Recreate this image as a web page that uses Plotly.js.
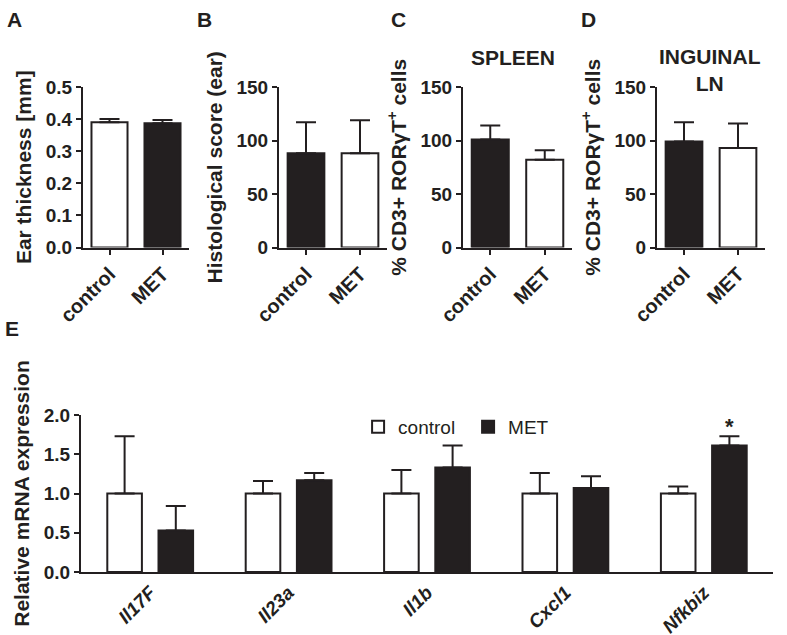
<!DOCTYPE html>
<html>
<head>
<meta charset="utf-8">
<script src="https://cdn.plot.ly/plotly-3.0.1.min.js"></script>
<style>
  html, body { margin: 0; padding: 0; background: #fff; }
  #myDiv { width: 787px; height: 635px; }
</style>
</head>
<body>
<div id="myDiv"></div>
<script>
// panel A-D: two groups each
var groups = ['control', 'MET'];

var earThick = [0.39, 0.387];
var earThickErr = [0.01, 0.01];

var histScore = [88, 88];
var histScoreErr = [29, 31];

var spleenPct = [101, 82];
var spleenErr = [13, 9];

var lnPct = [99, 93];
var lnErr = [18, 23];

// panel E
var genes = ['Il17F', 'Il23a', 'Il1b', 'Cxcl1', 'Nfkbiz'];
var ctrlExpr = [1.0, 1.0, 1.0, 1.0, 1.0];
var ctrlErr = [0.73, 0.16, 0.30, 0.26, 0.09];
var metExpr = [0.53, 1.17, 1.33, 1.07, 1.61];
var metErr = [0.31, 0.09, 0.28, 0.15, 0.12];

var FONT = 'Liberation Sans, Arial, sans-serif';
var INK = '#231f20';
var W = 787, H = 635;

function zeros(n) {
  var a = [];
  for (var i = 0; i < n; i++) a.push(0);
  return a;
}

function errUp(arr) {
  return {
    type: 'data', symmetric: false, array: arr, arrayminus: zeros(arr.length),
    color: INK, thickness: 2, width: 10
  };
}

function pairBar(vals, errs, colors, xa, ya) {
  return {
    type: 'bar',
    x: groups,
    y: vals,
    width: 0.68,
    xaxis: xa,
    yaxis: ya,
    showlegend: false,
    marker: { color: colors, line: { color: INK, width: 2 } },
    error_y: errUp(errs),
    hoverinfo: 'x+y'
  };
}

var whiteFirst = ['#ffffff', INK];
var blackFirst = [INK, '#ffffff'];

var traceA = pairBar(earThick, earThickErr, whiteFirst, 'x', 'y');
var traceB = pairBar(histScore, histScoreErr, blackFirst, 'x2', 'y2');
var traceC = pairBar(spleenPct, spleenErr, blackFirst, 'x3', 'y3');
var traceD = pairBar(lnPct, lnErr, blackFirst, 'x4', 'y4');

var traceCtrl = {
  type: 'bar',
  name: 'control',
  x: genes,
  y: ctrlExpr,
  width: 0.25,
  offset: -0.31,
  xaxis: 'x5',
  yaxis: 'y5',
  marker: { color: '#ffffff', line: { color: INK, width: 2 } },
  error_y: errUp(ctrlErr)
};
var traceMet = {
  type: 'bar',
  name: 'MET',
  x: genes,
  y: metExpr,
  width: 0.25,
  offset: 0.06,
  xaxis: 'x5',
  yaxis: 'y5',
  marker: { color: INK, line: { color: INK, width: 2 } },
  error_y: errUp(metErr)
};

var data = [traceA, traceB, traceC, traceD, traceCtrl, traceMet];

function px(x) { return x / W; }
function py(y) { return 1 - y / H; }

function axisBase(extra) {
  var a = {
    showline: true, linecolor: INK, linewidth: 2,
    ticks: 'outside', ticklen: 5, tickwidth: 2, tickcolor: INK,
    showgrid: false, zeroline: false, fixedrange: true,
    tickfont: { family: FONT, size: 19, weight: 'bold', color: INK }
  };
  for (var k in extra) a[k] = extra[k];
  return a;
}

function catX(domain, anchor) {
  return axisBase({
    type: 'category', domain: domain, anchor: anchor,
    categoryorder: 'array', categoryarray: groups,
    range: [-0.5, 1.5], tickangle: -45,
    tickfont: { family: FONT, size: 20, weight: 'bold', color: INK }
  });
}

function valY(domain, anchor, range, dtick, fmt, title) {
  return axisBase({
    domain: domain, anchor: anchor, range: range, dtick: dtick, tick0: 0,
    tickformat: fmt,
    title: { text: title, font: { family: FONT, size: 21, weight: 'bold', color: INK }, standoff: 8 }
  });
}

var topY = [py(247.5), py(87)];
var botY = [py(572), py(415)];

var letterFont = { family: FONT, size: 21, weight: 'bold', color: INK };
var headFont = { family: FONT, size: 21, weight: 'bold', color: INK };

function note(txt, x, y, font, xanchor) {
  return {
    text: txt, xref: 'paper', yref: 'paper', x: px(x), y: py(y),
    xanchor: xanchor || 'left', yanchor: 'middle', showarrow: false, font: font
  };
}

var layout = {
  width: W, height: H,
  margin: { l: 0, r: 0, t: 0, b: 0 },
  paper_bgcolor: '#ffffff',
  plot_bgcolor: 'rgba(0,0,0,0)',
  barmode: 'overlay',
  font: { family: FONT, color: INK },
  xaxis: catX([px(83), px(189)], 'y'),
  yaxis: valY(topY, 'x', [0, 0.5], 0.1, '.1f', 'Ear thickness [mm]'),
  xaxis2: catX([px(279), px(387)], 'y2'),
  yaxis2: valY(topY, 'x2', [0, 150], 50, 'd', 'Histological score (ear)'),
  xaxis3: catX([px(463), px(572)], 'y3'),
  yaxis3: valY(topY, 'x3', [0, 150], 50, 'd', '% CD3+ ROR\u03b3T<sup>+</sup> cells'),
  xaxis4: catX([px(657), px(765)], 'y4'),
  yaxis4: valY(topY, 'x4', [0, 150], 50, 'd', '% CD3+ ROR\u03b3T<sup>+</sup> cells'),
  xaxis5: axisBase({
    type: 'category', domain: [px(81), px(773)], anchor: 'y5',
    categoryorder: 'array', categoryarray: genes,
    tickvals: genes,
    ticktext: genes.map(function (g) { return '<i>' + g + '</i>'; }),
    range: [-0.5, 4.5], tickangle: -45, ticks: ''
  }),
  yaxis5: valY(botY, 'x5', [0, 2], 0.5, '.1f', 'Relative mRNA expression'),
  showlegend: true,
  legend: {
    orientation: 'h',
    x: 0.455, y: py(427), yanchor: 'middle', xanchor: 'left',
    entrywidth: 65,
    bgcolor: 'rgba(0,0,0,0)',
    font: { family: FONT, size: 19, color: INK }
  },
  annotations: [
    note('A', 5, 19, letterFont),
    note('B', 195, 19, letterFont),
    note('C', 389, 19, letterFont),
    note('D', 579, 19, letterFont),
    note('E', 3, 328, letterFont),
    note('SPLEEN', 513, 57, headFont, 'center'),
    note('INGUINAL<br>LN', 710, 70, headFont, 'center'),
    { text: '<b>*</b>', xref: 'x5', yref: 'y5', x: 4.185, y: 1.85, showarrow: false,
      font: { family: FONT, size: 22, color: INK } }
  ]
};

Plotly.newPlot('myDiv', data, layout, { staticPlot: true, displayModeBar: false });
</script>
</body>
</html>
